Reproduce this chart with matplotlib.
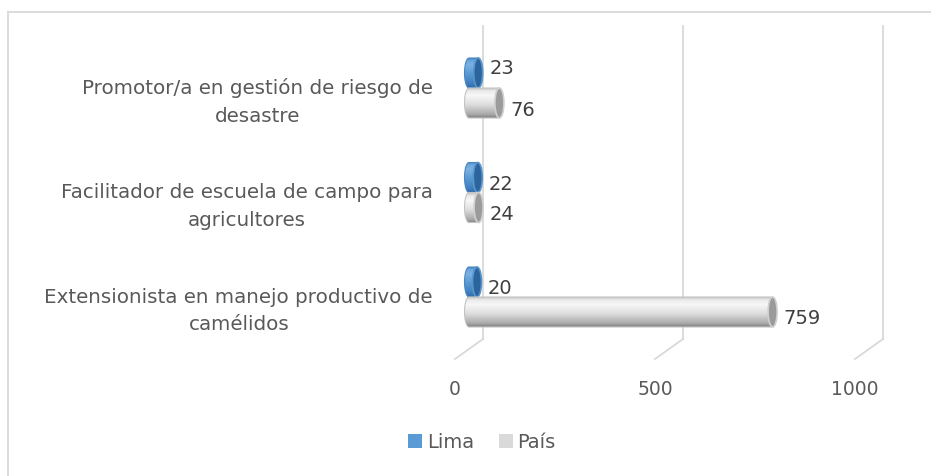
import numpy as np
import matplotlib
matplotlib.use("Agg")
import matplotlib.pyplot as plt
from matplotlib.patches import Ellipse, Polygon, Patch
from matplotlib.lines import Line2D

# ---- data ---------------------------------------------------------------
categories = ["Extensionista en manejo productivo de\ncamélidos",
              "Facilitador de escuela de campo para\nagricultores",
              "Promotor/a en gestión de riesgo de\ndesastre"]
lima = [20, 22, 23]
pais = [759, 24, 76]
series = ["Lima", "País"]
ticks = [0, 500, 1000]

# ---- layout (pixels at 100 dpi) ----------------------------------------
W, H, DPI = 931, 477, 100
X0, XS = 469, 0.4        # pixel of value 0, pixels per unit
Y0, YS = 298, 104.5      # pixel of first category, pixels per category
DEPTH = 14 / XS          # 3D depth offset in value units
BAR_H = 30               # bar thickness, px
CAP = 9                  # width of the end ellipse, px
LIMA_LBL_DY = [-6, -6, 6]  # excel put the labels slightly off-centre
GRID, TXT, INK = "#d9d9d9", "#595959", "#404040"
FONT = "DejaVu Sans"

plt.rcParams.update({"font.family": FONT})
fig = plt.figure(figsize=(W / DPI, H / DPI), dpi=DPI)
ax = fig.add_axes([0, 0, 1, 1])
ax.axis("off")


def py(p):
    return p / YS


def ramp(stops, n=80):
    pos = np.array([s[0] for s in stops])
    cols = np.array([matplotlib.colors.to_rgb(s[1]) for s in stops])
    t = np.linspace(0, 1, n)
    return np.stack([np.interp(t, pos, cols[:, k]) for k in range(3)], axis=-1)[:, None, :]


PAIS_GRAD = ramp([(0, "#7f7f7f"), (0.12, "#a9a9a9"), (0.45, "#dedede"),
                  (0.75, "#f7f7f7"), (0.9, "#ececec"), (1, "#c9c9c9")])
LIMA_GRAD = ramp([(0, "#2f6aa3"), (0.15, "#3f7fbf"), (0.5, "#5b9bd5"),
                  (0.78, "#7cb2e4"), (0.92, "#6aa6dd"), (1, "#4a88c4")])


def cylinder(val, yc, grad, cap, rim, edge, z):
    b = py(BAR_H) / 2
    a = CAP / 2 / XS
    t = np.linspace(np.pi / 2, 3 * np.pi / 2, 40)
    xs = np.r_[a * np.cos(t), [val, val]]
    ys = np.r_[yc + b * np.sin(t), [yc - b, yc + b]]
    shape = Polygon(np.c_[xs, ys], closed=True, fc="none", ec=edge, lw=0.8, zorder=z + 0.1)
    ax.add_patch(shape)
    im = ax.imshow(grad, extent=(-a, val, yc - b, yc + b), origin="lower",
                   aspect="auto", interpolation="bilinear", zorder=z)
    im.set_clip_path(shape)
    ax.add_patch(Ellipse((val, yc), 2 * a, 2 * b, fc=cap, ec=rim, lw=1.2, zorder=z + 0.2))


# ---- 3D grid: back wall lines + floor diagonals ------------------------
top, back, front = py(Y0 - 27), py(Y0 - 340), py(Y0 - 360)
for v in ticks:
    ax.plot([v + DEPTH, v + DEPTH], [top, back], color=GRID, lw=1.3, zorder=1)
    ax.plot([v + DEPTH, v - DEPTH], [back, front], color=GRID, lw=1.3, zorder=1)
    ax.text(v - DEPTH, py(Y0 - 390), f"{v}", ha="center", va="center",
            fontsize=13.5, color=TXT)

# ---- bars ---------------------------------------------------------------
off = py(BAR_H) / 2
for i, (cat, l, p) in enumerate(zip(categories, lima, pais)):
    cylinder(l, i + off, LIMA_GRAD, "#2c659e", "#5a95cc", "#4a86c0", 3 + i)
    cylinder(p, i - off, PAIS_GRAD, "#9b9b9b", "#d0d0d0", "#c4c4c4", 4 + i)
    ax.annotate(f"{l}", (l, i + off), xytext=(11, LIMA_LBL_DY[i]), textcoords="offset pixels",
                ha="left", va="center", fontsize=14, color=INK)
    ax.annotate(f"{p}", (p, i - off), xytext=(11, -6), textcoords="offset pixels",
                ha="left", va="center", fontsize=14, color=INK)
    ax.annotate(cat, (0, i), xytext=(-36, -13), textcoords="offset pixels",
                ha="right", va="center", multialignment="center",
                linespacing=1.58, fontsize=14.3, color=TXT)

ax.set_xlim(-X0 / XS, (W - X0) / XS)
ax.set_ylim(py(Y0 - H), py(Y0))

# ---- legend and outer frame ---------------------------------------------
handles = [Patch(fc="#5b9bd5", ec="none"), Patch(fc="#d9d9d9", ec="none")]
fig.legend(handles, series, loc="center", bbox_to_anchor=(482 / W, 1 - 443 / H),
           ncol=2, frameon=False, fontsize=14, handlelength=0.7, handleheight=0.7,
           handletextpad=0.25, columnspacing=1.3, labelcolor=TXT)
fig.add_artist(Line2D([8 / W, 8 / W], [0, 1 - 13 / H], transform=fig.transFigure,
                      color=GRID, lw=1.3))
fig.add_artist(Line2D([8 / W, 1], [1 - 13 / H, 1 - 13 / H], transform=fig.transFigure,
                      color=GRID, lw=1.3))

fig.savefig("out.png", dpi=DPI, facecolor="white")
